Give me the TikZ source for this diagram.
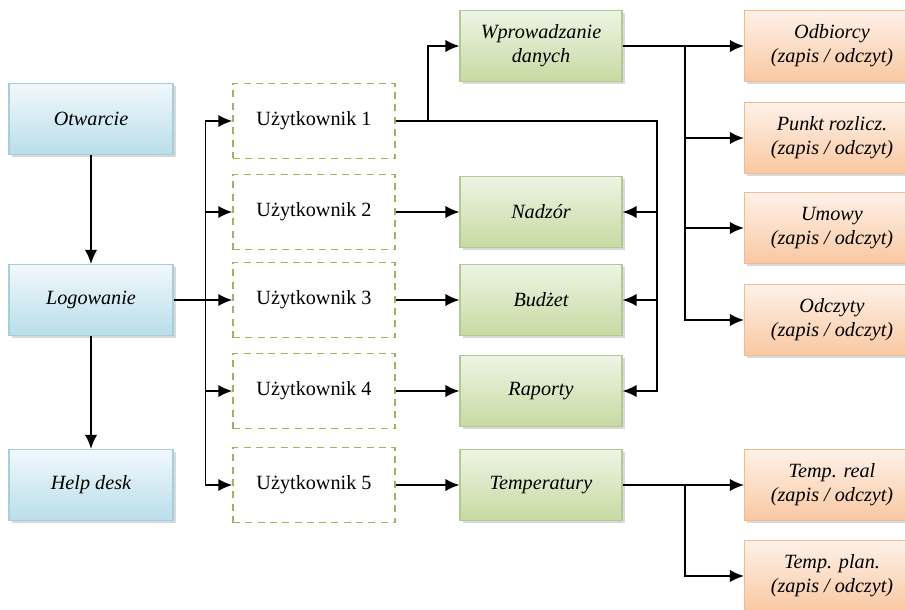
\documentclass[tikz,border=0pt]{standalone}
\usepackage{fontspec}
\setmainfont{Liberation Serif}
\usepackage{tikz}
\usetikzlibrary{arrows.meta, shadows}

\definecolor{blueTop}{HTML}{F1F8FB}
\definecolor{blueBot}{HTML}{B9DEEA}
\definecolor{blueLine}{HTML}{A6CEDC}
\definecolor{greenTop}{HTML}{EEF4E4}
\definecolor{greenBot}{HTML}{C6DAA2}
\definecolor{greenLine}{HTML}{B4C992}
\definecolor{orangeTop}{HTML}{FEF1E8}
\definecolor{orangeBot}{HTML}{F9C8A2}
\definecolor{orangeLine}{HTML}{F3B98F}
\definecolor{dashLine}{HTML}{9FB461}

\tikzset{
  box/.style={minimum width=3.28cm, minimum height=1.42cm, align=center,
    font=\itshape\fontsize{11.5}{13.5}\selectfont, line width=0.6pt,
    drop shadow={shadow xshift=1.5pt, shadow yshift=-1.5pt, opacity=0.3}},
  bluebox/.style={box, draw=blueLine, top color=blueTop, bottom color=blueBot},
  greenbox/.style={box, draw=greenLine, top color=greenTop, bottom color=greenBot, minimum width=3.24cm},
  orangebox/.style={box, draw=orangeLine, top color=orangeTop, bottom color=orangeBot, minimum width=3.5cm},
  userbox/.style={draw=dashLine, line width=0.8pt, dash pattern=on 4pt off 3pt,
    minimum width=3.24cm, minimum height=1.5cm, font=\fontsize{11.5}{13.5}\selectfont},
  arr/.style={-{Latex[length=8pt,width=7pt]}, line width=1pt}
}

\begin{document}
\begin{tikzpicture}[x=0.02cm, y=-0.02cm]
        % 画布
        \useasboundingbox (0,0) rectangle (905,609);
        \clip (0,0) rectangle (905,609);

        % 左列
        \node[bluebox] (otw) at (91,119) {Otwarcie};
        \node[bluebox] (log) at (91,300) {Logowanie};
        \node[bluebox] (help) at (91,485) {Help desk};

        % 用户
        \node[userbox] (u1) at (314,121) {Użytkownik 1};
        \node[userbox] (u2) at (314,212) {Użytkownik 2};
        \node[userbox] (u3) at (314,300) {Użytkownik 3};
        \node[userbox] (u4) at (314,391) {Użytkownik 4};
        \node[userbox] (u5) at (314,485) {Użytkownik 5};

        % 模块
        \node[greenbox] (wpr) at (541,46) {Wprowadzanie\\danych};
        \node[greenbox] (nad) at (541,212) {Nadzór};
        \node[greenbox] (bud) at (541,300) {Budżet};
        \node[greenbox] (rap) at (541,391) {Raporty};
        \node[greenbox] (tem) at (541,485) {Temperatury};

        % 表
        \node[orangebox] (o1) at (832,46) {Odbiorcy\\(zapis / odczyt)};
        \node[orangebox] (o2) at (832,138) {Punkt rozlicz.\\(zapis / odczyt)};
        \node[orangebox] (o3) at (832,228) {Umowy\\(zapis / odczyt)};
        \node[orangebox] (o4) at (832,320) {Odczyty\\(zapis / odczyt)};
        \node[orangebox] (t1) at (832,485) {Temp. real\\(zapis / odczyt)};
        \node[orangebox] (t2) at (832,576) {Temp. plan.\\(zapis / odczyt)};

        % 总线位置
        \coordinate (busR) at (657,0);
        \coordinate (busO) at (685,0);

        % 连线
        \draw[arr] (otw) -- (log);
        \draw[arr] (log) -- (help);
        \foreach \i in {1,...,5}
          \draw[arr] (log.east) -- ++(32,0) |- (u\i.west);
        \draw[arr] (u1.east) -- ++(32,0) |- (wpr.west);
        \foreach \n in {nad,bud,rap}
          \draw[arr] (u1.east) -- (u1.east -| busR) |- (\n.east);
        \draw[arr] (u2) -- (nad);
        \draw[arr] (u3) -- (bud);
        \draw[arr] (u4) -- (rap);
        \draw[arr] (u5) -- (tem);
        \foreach \i in {1,...,4}
          \draw[arr] (wpr.east) -- (wpr.east -| busO) |- (o\i.west);
        \foreach \i in {1,2}
          \draw[arr] (tem.east) -- (tem.east -| busO) |- (t\i.west);
\end{tikzpicture}
\end{document}
